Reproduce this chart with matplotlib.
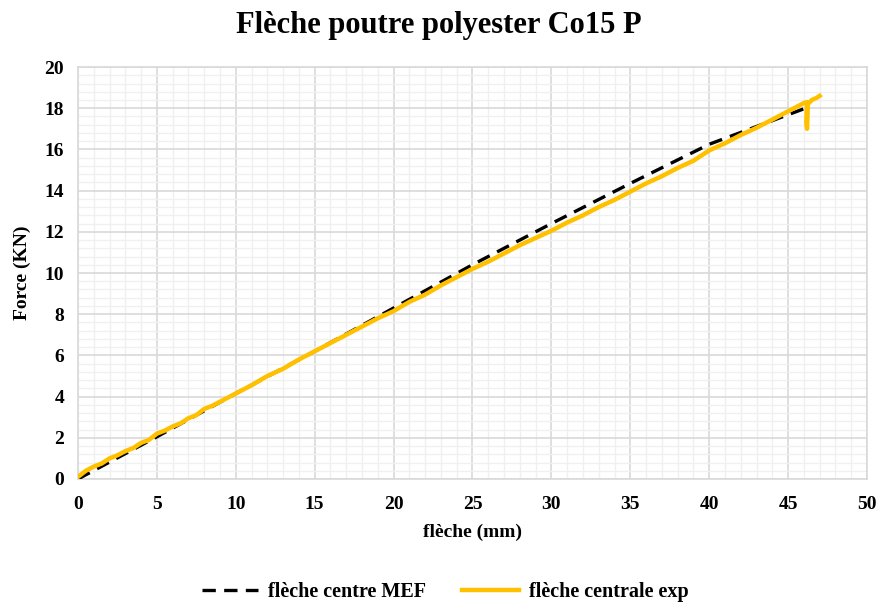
import matplotlib.pyplot as plt
from matplotlib.ticker import MultipleLocator

# MEF (finite element) curve
mef_x = [0, 5, 10, 15, 20, 25, 30, 35, 40, 44, 46.1]
mef_y = [0, 2.05, 4.15, 6.2, 8.3, 10.4, 12.4, 14.35, 16.25, 17.4, 18.0]

# experimental curve
exp_x = [0, 0.5, 1, 1.5, 2, 2.5, 3, 3.5, 4, 4.5, 5, 5.5, 6, 6.5, 7, 7.5, 8, 8.5,
         9, 9.5, 10, 11, 12, 13, 14, 15, 16, 17, 18, 19, 20, 21, 22, 23, 24, 25,
         26, 27, 28, 29, 30, 31, 32, 33, 34, 35, 36, 37, 38, 39, 40, 41, 42, 43,
         44, 45, 45.5, 46.0, 46.2, 46.15, 46.2, 46.25, 46.5, 46.8, 47.0]
exp_y = [0.1, 0.4, 0.6, 0.75, 1.0, 1.15, 1.35, 1.5, 1.75, 1.9, 2.2, 2.35, 2.55,
         2.7, 2.95, 3.1, 3.4, 3.55, 3.75, 3.95, 4.15, 4.55, 5.0, 5.35, 5.8, 6.2,
         6.6, 7.0, 7.4, 7.8, 8.15, 8.6, 8.95, 9.4, 9.8, 10.2, 10.55, 10.95, 11.35,
         11.7, 12.05, 12.45, 12.8, 13.2, 13.55, 13.95, 14.35, 14.7, 15.1, 15.45,
         15.95, 16.3, 16.7, 17.05, 17.45, 17.85, 18.05, 18.25, 18.3, 17.3, 17.0,
         18.2, 18.4, 18.5, 18.6]

plt.rcParams['font.family'] = ['Liberation Serif', 'DejaVu Serif']
plt.rcParams['font.weight'] = 'bold'

fig = plt.figure(figsize=(8.78, 6.06), dpi=100)
ax = fig.add_axes([0.0888, 0.2096, 0.8987, 0.6798])

ax.plot(mef_x, mef_y, color='black', lw=2.4, ls=(0, (4, 2.5)), label='flèche centre MEF', zorder=3)
ax.plot(exp_x, exp_y, color='#FFC000', lw=3.2, label='flèche centrale exp', zorder=4)

ax.set_xlim(0, 50)
ax.set_ylim(0, 20)
ax.xaxis.set_major_locator(MultipleLocator(5))
ax.xaxis.set_minor_locator(MultipleLocator(1))
ax.yaxis.set_major_locator(MultipleLocator(2))
ax.yaxis.set_minor_locator(MultipleLocator(0.4))
ax.grid(which='major', color='#d9d9d9', lw=1.2)
ax.grid(which='minor', color='#f0f0f0', lw=1.0)
ax.set_axisbelow(True)
for s in ax.spines.values():
    s.set_color('#d9d9d9')
    s.set_linewidth(1.2)
ax.tick_params(axis='x', which='both', length=0, labelsize=14, pad=12)
ax.tick_params(axis='y', which='both', length=0, labelsize=14, pad=10)
for lab in ax.get_xticklabels() + ax.get_yticklabels():
    lab.set_fontweight('bold')

ax.set_xlabel('flèche (mm)', fontsize=14, fontweight='bold', labelpad=8)
ax.set_ylabel('Force (KN)', fontsize=14, fontweight='bold', labelpad=10)
fig.suptitle('Flèche poutre polyester Co15 P', fontsize=22, fontweight='bold', y=0.982)

fig.legend(loc='center', bbox_to_anchor=(0.507, 0.023), ncol=2, frameon=False,
           handlelength=2.8, handletextpad=0.5, columnspacing=1.8,
           prop={'weight': 'bold', 'size': 14.5})

fig.savefig('out.png', dpi=100)
